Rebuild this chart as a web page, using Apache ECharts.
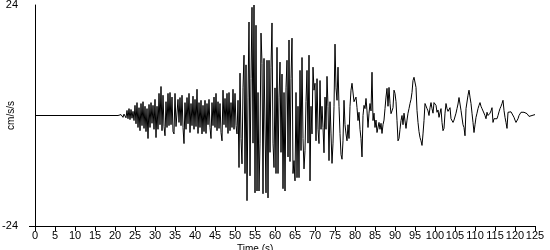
<!DOCTYPE html>
<html><head><meta charset="utf-8">
<script src="https://cdn.jsdelivr.net/npm/echarts@6/dist/echarts.min.js"></script>
<style>html,body{margin:0;padding:0;background:#fff}#c{width:550px;height:250px}</style>
</head><body><div id="c"></div>
<script>
// Acceleration record, cm/s/s, sampled every 0.25 s
const sampleStep = 0.25;
const quietStart = 0, quietEnd = 20;       // flat pre-event segment
const pWaveStart = 20;
const pWave = [
 0,0.3,-0.2,0,0.4,-0.3,0.2,0,-0.4,0.3,
 0.6,-0.5,1.1,-0.7,1.5,-0.9,1.3,-0.6,0.9,-1.1,
 2.2,-1.8,2.8,-2.6,1.7,-3.3,2.6,-2.2,3.0,-2.8,
 2.0,-3.5,1.5,-5.0,2.4,-2.6,2.8,-1.7,2.2,-3.0,
 3.5,-4.8,2.0,-3.0,4.8,-2.0,6.3,-3.3,4.4,-2.4,
 -4.4,3.0,-2.6,4.8,-2.2,5.0,-2.0,4.0,-3.5,-4.0,
 4.8,-2.4,-2.8,3.5,-1.5,3.9,-2.2,4.4,-2.6,-6.1,
 2.8,-3.0,3.9,-1.8,4.8,-3.7,2.6,-2.2,4.2,-3.0,
 3.5,-2.4,5.7,-3.9,2.8,-2.6,3.3,-4.0,2.2,-3.5,
 3.3,-3.9,2.6,-2.0,3.5,-2.6,-5.0,2.8,-2.2,4.0,
 -2.6,4.8,-3.3,3.0,-2.8,2.6,-3.7,-5.5,5.5,-2.0,
 3.7,-2.6,4.8,-3.9,5.0,-3.3,2.8,-2.6,5.7,-3.0
];
const sWaveStart = 50;
const sWave = [
 4.8,-2.2,-4.0,3.3,-11.3,9.2,-5.0,-10.5,6.0,13.1,
 -12.6,11.0,-18.5,4.0,20.3,-13.1,8.0,23.5,-6.0,24.0,
 -16.8,19.6,-16.4,5.0,-16.4,-6.0,17.9,11.3,-17.0,12.4,
 12.0,-16.8,12.0,-17.9,12.0,-8.0,10.5,20.1,-6.0,-11.3,
 6.0,-12.6,14.8,-12.6,4.0,11.6,-8.0,9.0,-15.9,5.0,
 -16.4,6.0,12.0,-9.0,16.4,-10.0,8.0,16.8,-12.6,-9.8,
 -14.2,5.0,-13.5,2.0,-13.5,9.8,-7.6,12.6,-5.0,-11.6,
 -7.6,3.0,9.8,-6.0,13.1,-14.2,2.0,-4.0,10.5,5.5,
 7.0,-5.5,8.0,-3.0,-6.1,7.6,-3.0,2.0,-2.6,-8.1,
 4.0,-3.0,8.5,2.0,-9.8,3.0,-4.0,-10.4,-6.0,2.0,
 15.5,6.0,3.3,10.5,2.0,-3.9,-8.5,-9.5,-5.5,3.3,
 -2.0,-4.0,-5.5,-2.0,-5.0,2.0,5.5,7.0,7.2,3.0
];
const codaStart = 80;
const coda = [
 2.6,4.0,1.7,-1.1,0.7,-3.0,-5.0,-9.0,0.0,2.2,
 1.5,3.7,1.0,-2.6,0.5,2.6,1.0,9.4,-1.1,0.5,
 -2.6,-1.0,-3.7,-3.3,-1.5,-3.0,-1.7,-3.9,-2.0,-1.0,
 1.5,4.0,5.9,2.0,6.1,2.6,0.4,1.0,1.7,5.5,
 4.8,3.0,-1.1,-5.5,-5.0,-3.0,-1.1,0.0,-2.0,0.5,
 0.4,-2.8,-1.0,0.5,1.5,2.6,3.5,5.0,7.6,8.3,
 8.7,6.1,1.1,-1.5,-3.5,-4.8,-5.5,-6.5,-4.0,-1.1,
 2.6,2.8,1.5,1.0,0.0,1.7,2.8,1.5,0.5,2.8,
 2.8,2.2,0.7,1.2,-0.4,-0.7,1.5,-1.5,-3.3,-2.8,
 0.5,2.6,1.5,0.9,1.2,1.7,-0.7,-0.5,-1.5,-1.0,
 -1.1,0.5,1.5,2.5,3.9,3.5,1.1,1.5,-2.0,-2.6,
 -4.4,1.5,1.1,4.4,5.5,4.0,2.6,0.5,-1.5,-3.7,
 -2.0,-0.4,0.5,1.5,2.2,2.8,2.0,1.5,1.2,1.1,
 0.0,-0.7,0.7,0.0,-0.4,0.5,1.0,1.7,-1.5,-0.7,
 -0.4,-0.5,-0.7,0.0,0.8,1.5,2.0,2.6,3.3,1.1,
 -0.4,-1.5,-2.8,0.7,0.5,0.4,0.8,1.0,1.1,-0.4,
 -1.0,-1.5,-1.2,-0.7,0.0,0.4,0.7,0.8,0.9,0.7,
 0.5,0.6,0.4,0.2,-0.2,-0.1,0.0,0.0,0.1,0.2,0.2
];
const yLimits = [-24, 24];
const xTickStep = 5;
const xMax = 125;

const pts = [[quietStart, 0], [quietEnd, 0]];
[[pWaveStart, pWave], [sWaveStart, sWave], [codaStart, coda]].forEach(([t0, arr]) => {
  arr.forEach((v, i) => pts.push([t0 + i * sampleStep, v]));
});

const font = 'Liberation Sans, Arial, sans-serif';
const chart = echarts.init(document.getElementById('c'), null, {renderer: 'canvas'});
chart.setOption({
  animation: false,
  backgroundColor: '#fff',
  title: {text: 'Time (s)', left: 232, top: 239,
    textStyle: {fontFamily: font, fontSize: 10, fontWeight: 'normal', color: '#000'}},
  grid: {left: 35, right: 15, top: 5, bottom: 24, containLabel: false, outerBoundsMode: 'none'},
  xAxis: {
    type: 'value', min: 0, max: xMax, interval: xTickStep,
    axisLine: {onZero: false, lineStyle: {color: '#000', width: 1}},
    axisTick: {show: true, length: 5, lineStyle: {color: '#000'}},
    axisLabel: {color: '#000', fontFamily: font, fontSize: 11, margin: 4, hideOverlap: false},
    splitLine: {show: false}
  },
  yAxis: {
    type: 'value', min: yLimits[0], max: yLimits[1], interval: 48,
    name: 'cm/s/s', nameLocation: 'middle', nameGap: 19, nameRotate: 90, nameMoveOverlap: false,
    nameTextStyle: {color: '#000', fontFamily: font, fontSize: 10},
    axisLine: {show: true, lineStyle: {color: '#000', width: 1}},
    axisTick: {show: true, length: 6, customValues: [yLimits[0]], lineStyle: {color: '#000'}},
    axisLabel: {color: '#000', fontFamily: font, fontSize: 11, margin: 17},
    splitLine: {show: false}
  },
  series: [{
    type: 'line', data: pts, showSymbol: false, symbol: 'none',
    lineStyle: {color: '#000', width: 1}, silent: true
  }]
});
</script></body></html>
